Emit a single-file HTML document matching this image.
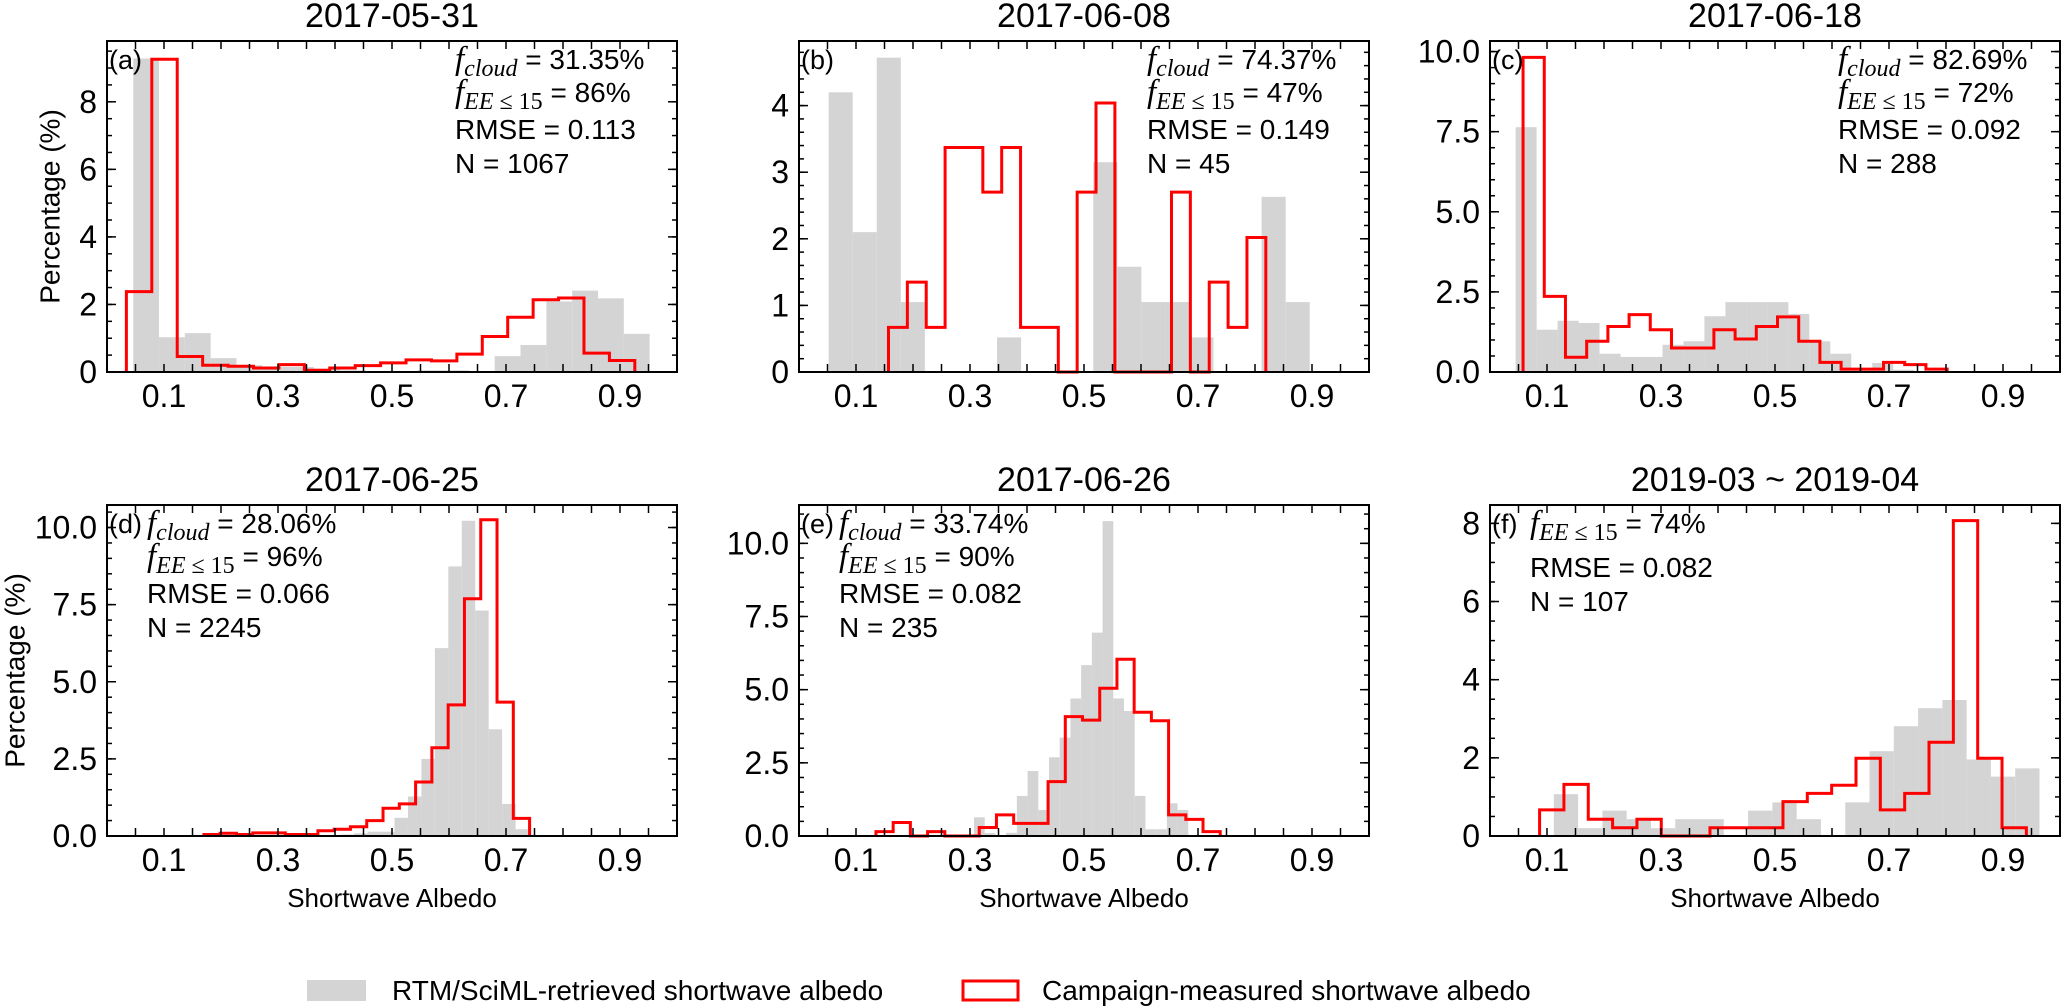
<!DOCTYPE html>
<html><head><meta charset="utf-8">
<style>
html,body{margin:0;padding:0;background:#fff;}
svg{display:block;font-family:"Liberation Sans",Arial,sans-serif;}
</style></head>
<body>
<svg id="fig" width="2067" height="1007" viewBox="0 0 2067 1007" xmlns="http://www.w3.org/2000/svg">
</svg>
<script>
// ---------------- data ----------------
const panelTitles = ["2017-05-31","2017-06-08","2017-06-18","2017-06-25","2017-06-26","2019-03 ~ 2019-04"];
const panelLetters = ["(a)","(b)","(c)","(d)","(e)","(f)"];
const xTickLabels = ["0.1","0.3","0.5","0.7","0.9"];
const xTickValues = [0.1,0.3,0.5,0.7,0.9];

const aGrayStart = 0.046, aGrayWidth = 0.0453;
const aGray = [9.28,1.03,1.15,0.41,0.2,0.15,0.15,0.1,0.05,0.03,0.03,0.05,0.05,0.02,0.47,0.8,2.09,2.41,2.18,1.13];
const aRedStart = 0.034, aRedWidth = 0.0446;
const aRed = [2.38,9.26,0.46,0.2,0.17,0.12,0.22,0.05,0.12,0.19,0.27,0.36,0.33,0.53,1.05,1.62,2.14,2.19,0.56,0.34];

const bGrayStart = 0.052, bGrayWidth = 0.0422;
const bGray = [4.2,2.1,4.72,1.05,0,0,0,0.52,0,0,0,3.15,1.58,1.05,1.05,0.52,0,0,2.63,1.05];
const bRedStart = 0.157, bRedWidth = 0.0331;
const bRed = [0.67,1.35,0.67,3.37,3.37,2.7,3.37,0.67,0.67,0,2.7,4.04,0,0,0,2.7,0,1.35,0.67,2.02];

const cGrayStart = 0.045, cGrayWidth = 0.0368;
const cGray = [7.64,1.32,1.6,1.53,0.57,0.47,0.47,0.85,0.96,1.74,2.18,2.18,2.18,1.81,0.96,0.57,0.1,0.28,0.07];
const cRedStart = 0.058, cRedWidth = 0.0372;
const cRed = [9.82,2.36,0.46,0.96,1.42,1.79,1.32,0.75,0.75,1.32,1.03,1.42,1.72,0.96,0.3,0.09,0.09,0.3,0.23,0.09];

const dGrayStart = 0.41, dGrayWidth = 0.0236;
const dGray = [0.05,0.09,0.14,0.14,0.59,1.28,2.5,6.09,8.74,10.22,7.31,3.46,1.04,0.22];
const dRedStart = 0.170, dRedWidth = 0.02857;
const dRed = [0.05,0.09,0.05,0.1,0.1,0.05,0.05,0.17,0.22,0.3,0.5,0.9,1.04,1.75,2.86,4.25,7.69,10.25,4.34,0.57];

const eGrayStart = 0.307, eGrayWidth = 0.0188;
const eGray = [0.64,0.1,0,0.11,1.37,2.22,0.89,2.69,3.36,4.7,5.84,6.95,10.76,4.7,4.27,1.37,0.23,0.23,1.12,0.89];
const eRedStart = 0.135, eRedWidth = 0.0302;
const eRed = [0.15,0.46,0,0.15,0,0,0.29,0.72,0.43,0.43,1.86,4.08,3.96,5.05,6.04,4.23,3.94,0.72,0.57,0.15];

const fGrayStart = 0.112, fGrayWidth = 0.0426;
const fGray = [1.07,0.2,0.65,0.43,0.2,0.43,0.43,0,0.65,0.86,0.43,0,0.86,2.17,2.81,3.27,3.48,1.96,1.52,1.73];
const fRedStart = 0.087, fRedWidth = 0.0427;
const fRed = [0.67,1.32,0.43,0.21,0.43,0,0,0.21,0.21,0.21,0.88,1.09,1.3,1.99,0.67,1.09,2.4,8.07,1.99,0.21];

const yMaxes = [9.8,4.97,10.33,10.73,11.31,8.47];
const yMajorTicks = [[0,2,4,6,8],[0,1,2,3,4],[0,2.5,5,7.5,10],[0,2.5,5,7.5,10],[0,2.5,5,7.5,10],[0,2,4,6,8]];
const yTickLabels = [["0","2","4","6","8"],["0","1","2","3","4"],["0.0","2.5","5.0","7.5","10.0"],["0.0","2.5","5.0","7.5","10.0"],["0.0","2.5","5.0","7.5","10.0"],["0","2","4","6","8"]];
const yMinorStep = [0.5,0.2,0.5,0.5,0.5,0.5];

const fcloudValues = ["31.35%","74.37%","82.69%","28.06%","33.74%",null];
const feeValues = ["86%","47%","72%","96%","90%","74%"];
const rmseValues = ["0.113","0.149","0.092","0.066","0.082","0.082"];
const nValues = ["1067","45","288","2245","235","107"];

// ---------------- drawing ----------------
const NS = "http://www.w3.org/2000/svg";
const svg = document.getElementById("fig");
const lefts = [107, 799, 1490];
const tops = [41, 505];
const W = 570, H = 331;
const panels = [
  {gs:aGrayStart,gw:aGrayWidth,g:aGray,rs:aRedStart,rw:aRedWidth,r:aRed},
  {gs:bGrayStart,gw:bGrayWidth,g:bGray,rs:bRedStart,rw:bRedWidth,r:bRed},
  {gs:cGrayStart,gw:cGrayWidth,g:cGray,rs:cRedStart,rw:cRedWidth,r:cRed},
  {gs:dGrayStart,gw:dGrayWidth,g:dGray,rs:dRedStart,rw:dRedWidth,r:dRed},
  {gs:eGrayStart,gw:eGrayWidth,g:eGray,rs:eRedStart,rw:eRedWidth,r:eRed},
  {gs:fGrayStart,gw:fGrayWidth,g:fGray,rs:fRedStart,rw:fRedWidth,r:fRed}
];
function mk(tag, parent){ const e=document.createElementNS(NS,tag); (parent||svg).appendChild(e); return e; }
function line(p,x1,y1,x2,y2,w){ const l=mk("line",p); l.setAttribute("x1",x1);l.setAttribute("y1",y1);l.setAttribute("x2",x2);l.setAttribute("y2",y2);l.setAttribute("stroke","#000");l.setAttribute("stroke-width",w); return l; }

panels.forEach((P,i)=>{
  const col=i%3, row=Math.floor(i/3);
  const L=lefts[col], T=tops[row], B=T+H, R=L+W;
  const ymax=yMaxes[i];
  const xs=v=>L+v*W;
  const ys=v=>B-v/ymax*H;
  const g=mk("g");
  
  

  P.g.forEach((v,k)=>{
    if(v<=0) return;
    const x0=xs(P.gs+k*P.gw), x1=xs(P.gs+(k+1)*P.gw);
    const rc=mk("rect",g);
    
    
    rc.setAttribute("x",x0);rc.setAttribute("y",ys(v));rc.setAttribute("width",x1-x0);rc.setAttribute("height",B-ys(v));
    rc.setAttribute("fill","#d4d4d4");
  });
  let d="M"+xs(P.rs)+","+B;
  P.r.forEach((v,k)=>{
    const x0=xs(P.rs+k*P.rw), x1=xs(P.rs+(k+1)*P.rw);
    d+=" L"+x0+","+ys(v)+" L"+x1+","+ys(v);
  });
  d+=" L"+xs(P.rs+P.r.length*P.rw)+","+B;
  const pth=mk("path",g);
  
  
  pth.setAttribute("d",d);pth.setAttribute("fill","none");pth.setAttribute("stroke","#ff0000");pth.setAttribute("stroke-width","3");pth.setAttribute("stroke-linejoin","miter");

  const fr=mk("rect",g);
  
  
  fr.setAttribute("x",L);fr.setAttribute("y",T);fr.setAttribute("width",W);fr.setAttribute("height",H);
  fr.setAttribute("fill","none");fr.setAttribute("stroke","#000");fr.setAttribute("stroke-width","2");

  for(let k=1;k<20;k++){
    const x=xs(k*0.05);
    line(g,x,B,x,B-8,1.5); line(g,x,T,x,T+8,1.5);
  }
  xTickValues.forEach((v,k)=>{
    const t=mk("text",g);
    
    
    t.setAttribute("x",xs(v));t.setAttribute("y",B+35);t.setAttribute("font-size","32");t.setAttribute("text-anchor","middle");
    t.textContent=xTickLabels[k];
  });
  for(let v=0; v<=ymax+1e-6; v+=yMinorStep[i]){
    const y=ys(v); line(g,L,y,L+5,y,1.5); line(g,R,y,R-5,y,1.5);
  }
  yMajorTicks[i].forEach((v,k)=>{
    const y=ys(v); line(g,L,y,L+9,y,1.5); line(g,R,y,R-9,y,1.5);
    const t=mk("text",g);
    
    
    t.setAttribute("x",L-10);t.setAttribute("y",y+11);t.setAttribute("font-size","32");t.setAttribute("text-anchor","end");
    t.textContent=yTickLabels[i][k];
  });

  const tt=mk("text",g);
  
  
  tt.setAttribute("x",L+W/2);tt.setAttribute("y",T-14);tt.setAttribute("font-size","34");tt.setAttribute("text-anchor","middle");
  tt.textContent=panelTitles[i];

  const lt=mk("text",g);
  
  
  lt.setAttribute("x",L+2);lt.setAttribute("y",T+28);lt.setAttribute("font-size","27");
  lt.textContent=panelLetters[i];

  const ax = row===0 ? L+348 : L+40;
  let lines=[];
  if(i===5){ lines=[["fee",T+28],["rmse",T+72],["n",T+106]]; }
  else { lines=[["fcloud",T+28],["fee",T+61],["rmse",T+98],["n",T+132]]; }
  lines.forEach(([kind,y])=>{
    const t=mk("text",g);
    t.setAttribute("x",ax);t.setAttribute("y",y);t.setAttribute("font-size","28");
    if(kind==="fcloud"||kind==="fee"){
      
      
      const s1=mk("tspan",t); s1.setAttribute("font-family","'Liberation Serif',serif");s1.setAttribute("font-style","italic");s1.setAttribute("font-size","33");s1.textContent="f";
      const s2=mk("tspan",t); s2.setAttribute("font-family","'Liberation Serif',serif");s2.setAttribute("font-size","24");s2.setAttribute("dy","7");
      if(kind==="fcloud"){ s2.setAttribute("font-style","italic"); s2.textContent="cloud"; }
      else { const a=mk("tspan",s2); a.setAttribute("font-style","italic"); a.textContent="EE"; const b=mk("tspan",s2); b.textContent=" ≤ 15"; }
      const s3=mk("tspan",t); s3.setAttribute("dy","-7"); s3.textContent=" = "+(kind==="fcloud"?fcloudValues[i]:feeValues[i]);
    } else if(kind==="rmse"){
      
      
      t.textContent="RMSE = "+rmseValues[i];
    } else {
      
      
      t.textContent="N = "+nValues[i];
    }
  });

  if(row===1){
    const xl=mk("text",g);
    
    
    xl.setAttribute("x",L+W/2);xl.setAttribute("y",B+71);xl.setAttribute("font-size","26");xl.setAttribute("text-anchor","middle");
    xl.textContent="Shortwave Albedo";
  }
  if(col===0){
    const cx = row===0 ? 50 : 15, cy=T+H/2;
    const yl=mk("text",g);
    
    
    yl.setAttribute("x",cx);yl.setAttribute("y",cy);yl.setAttribute("font-size","28");yl.setAttribute("text-anchor","middle");
    yl.setAttribute("dominant-baseline","central");
    yl.setAttribute("transform","rotate(-90 "+cx+" "+cy+")");
    yl.textContent="Percentage (%)";
  }
});

const lg=mk("g");


const lr1=mk("rect",lg);


lr1.setAttribute("x",307);lr1.setAttribute("y",980);lr1.setAttribute("width",59);lr1.setAttribute("height",21);lr1.setAttribute("fill","#d4d4d4");
const lt1=mk("text",lg);


lt1.setAttribute("x",392);lt1.setAttribute("y",1000);lt1.setAttribute("font-size","28");
lt1.textContent="RTM/SciML-retrieved shortwave albedo";
const lr2=mk("rect",lg);


lr2.setAttribute("x",963);lr2.setAttribute("y",981);lr2.setAttribute("width",55);lr2.setAttribute("height",19);lr2.setAttribute("fill","none");lr2.setAttribute("stroke","#ff0000");lr2.setAttribute("stroke-width","3");
const lt2=mk("text",lg);


lt2.setAttribute("x",1042);lt2.setAttribute("y",1000);lt2.setAttribute("font-size","28");
lt2.textContent="Campaign-measured shortwave albedo";
</script>
</body></html>
